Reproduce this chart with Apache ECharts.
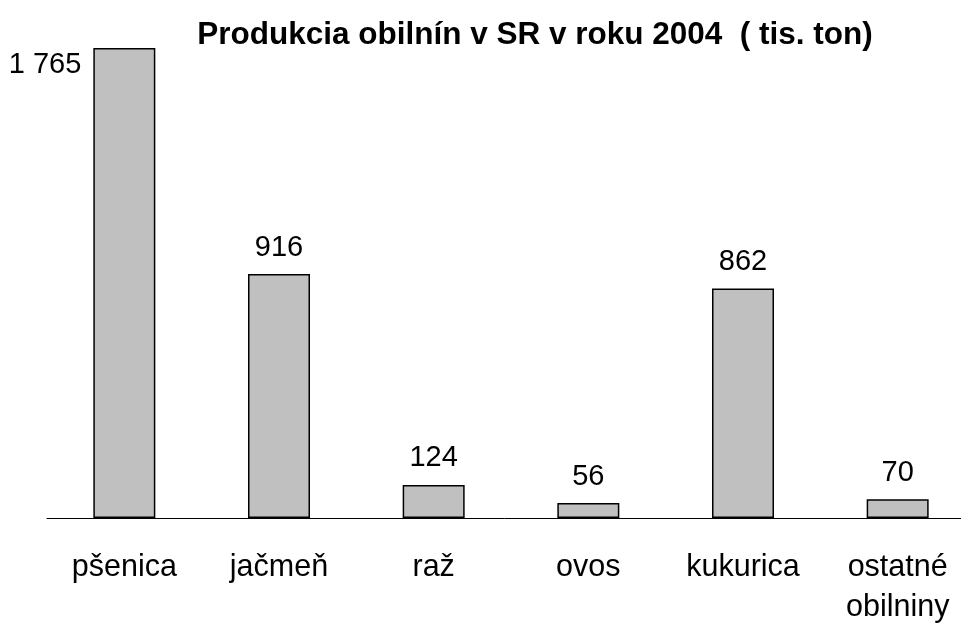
<!DOCTYPE html>
<html>
<head>
<meta charset="utf-8">
<script src="https://cdn.jsdelivr.net/npm/echarts@6/dist/echarts.min.js"></script>
<style>
html,body{margin:0;padding:0;background:#fff;overflow:hidden;}
#c{width:961px;height:623px;}
</style>
</head>
<body>
<div id="c"></div>
<script>
const categories = ['pšenica', 'jačmeň', 'raž', 'ovos', 'kukurica', 'ostatné\nobilniny'];
const values = [1765, 916, 124, 56, 862, 70];
const labelTexts = ['1 765', '916', '124', '56', '862', '70'];

const FONT = '"Liberation Sans", Arial, sans-serif';
const chart = echarts.init(document.getElementById('c'), null, {renderer: 'canvas'});

const data = values.map((v, i) => {
  const d = {value: v};
  if (i === 0) {
    d.label = {position: [-12, 17], align: 'right', verticalAlign: 'middle'};
  }
  return d;
});

chart.setOption({
  animation: false,
  backgroundColor: '#ffffff',
  title: {
    text: 'Produkcia obilnín v SR v roku 2004  ( tis. ton)',
    left: 530,
    textAlign: 'center',
    top: 14,
    textStyle: {fontFamily: FONT, fontSize: 31.5, fontWeight: 'bold', color: '#000'}
  },
  grid: {left: 47, width: 928, top: 48, height: 470, containLabel: false, outerBoundsMode: 'none'},
  xAxis: {
    type: 'category',
    data: categories,
    axisLine: {show: true, lineStyle: {color: '#000', width: 1}},
    axisTick: {show: false},
    axisLabel: {
      fontFamily: FONT, fontSize: 30.5, color: '#000', margin: 30, lineHeight: 40, interval: 0
    },
    splitLine: {show: false}
  },
  yAxis: {
    type: 'value',
    min: 0,
    max: 1765,
    show: false,
    splitLine: {show: false}
  },
  series: [{
    type: 'bar',
    data: data,
    barWidth: 62,
    itemStyle: {color: '#c0c0c0', borderColor: '#000', borderWidth: 1.5},
    label: {
      show: true,
      position: 'top',
      distance: 12,
      fontFamily: FONT,
      fontSize: 29,
      color: '#000',
      formatter: p => labelTexts[p.dataIndex]
    }
  }]
});
</script>
</body>
</html>
